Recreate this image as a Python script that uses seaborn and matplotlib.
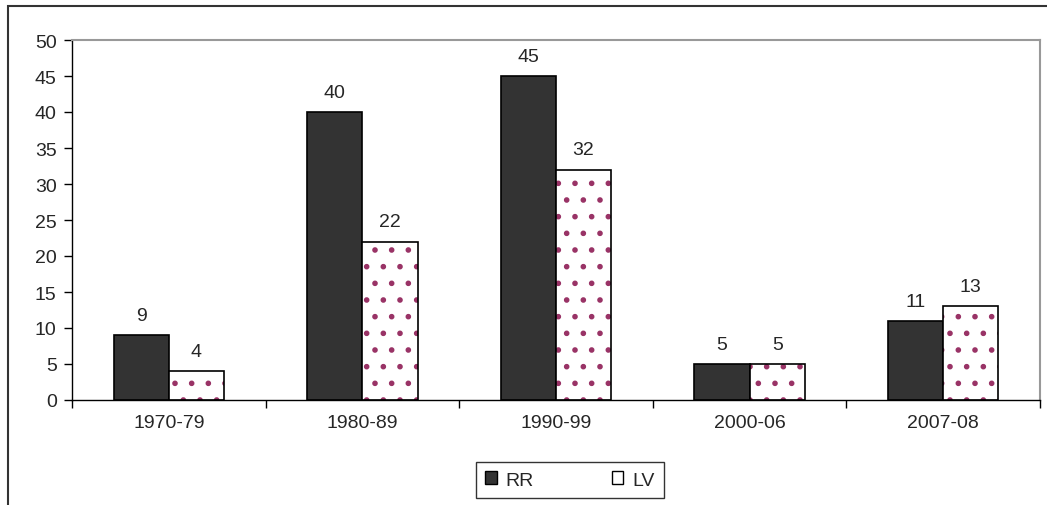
import pandas as pd
import matplotlib
matplotlib.use("Agg")
import matplotlib.pyplot as plt
import matplotlib.patches as mpatches
import seaborn as sns

periods = ["1970-79", "1980-89", "1990-99", "2000-06", "2007-08"]
rr = [9, 40, 45, 5, 11]
lv = [4, 22, 32, 5, 13]

df = pd.DataFrame({
    "period": periods * 2,
    "count": rr + lv,
    "series": ["RR"] * len(periods) + ["LV"] * len(periods),
})

sns.set_style("white")
plt.rcParams["font.family"] = ["Liberation Sans", "DejaVu Sans"]
plt.rcParams["hatch.linewidth"] = 1.6
fs = 14

fig = plt.figure(figsize=(10.47, 5.06), dpi=100)
ax = fig.add_axes([72 / 1047, 105 / 506, 968 / 1047, 360 / 506])

sns.barplot(data=df, x="period", y="count", hue="series",
            palette={"RR": "#333333", "LV": "white"},
            width=0.57, gap=0, saturation=1, edgecolor="black",
            linewidth=1.2, ax=ax, legend=False)

# dotted fill for LV: hatch takes the edge colour, so draw the outline on top
dot = "#993366"
for bar in ax.containers[1]:
    bar.set_hatch(".")
    bar.set_edgecolor(dot)
    bar.set_linewidth(0)
    ax.add_patch(mpatches.Rectangle((bar.get_x(), bar.get_y()), bar.get_width(),
                                    bar.get_height(), fill=False,
                                    edgecolor="black", linewidth=1.2, zorder=3))

for cont, vals in zip(ax.containers, [rr, lv]):
    ax.bar_label(cont, labels=[str(v) for v in vals], padding=8, fontsize=fs)

ax.set_ylim(0, 50)
ax.set_yticks(range(0, 51, 5))
ax.set_xlim(-0.5, len(periods) - 0.5)
ax.set_xticks([i + 0.5 for i in range(-1, len(periods))], minor=True)
ax.tick_params(axis="x", which="major", length=0, labelsize=fs, pad=10)
ax.tick_params(axis="x", which="minor", length=6, width=1, color="black",
               bottom=True, direction="out")
ax.tick_params(axis="y", length=6, width=1, color="black", labelsize=fs,
               left=True, direction="out", pad=5)
ax.set_xlabel("")
ax.set_ylabel("")
for s in ["left", "bottom"]:
    ax.spines[s].set_color("black")
    ax.spines[s].set_linewidth(1)
for s in ["top", "right"]:
    ax.spines[s].set_color("#999999")
    ax.spines[s].set_linewidth(1.5)

handles = [mpatches.Patch(facecolor="#333333", edgecolor="black", label="RR"),
           mpatches.Patch(facecolor="white", edgecolor="black", label="LV")]
leg = fig.legend(handles=handles, loc="center", bbox_to_anchor=(570 / 1047, 1 - 481 / 506),
                 ncol=2, frameon=True, fancybox=False, fontsize=fs,
                 handlelength=0.6, handleheight=0.6, columnspacing=4.0,
                 borderpad=0.5, handletextpad=0.45, borderaxespad=0)
leg.get_frame().set_edgecolor("black")
leg.get_frame().set_linewidth(1)

# outer chart border (only top and left visible in the crop)
fig.add_artist(mpatches.Rectangle((8 / 1047, -0.1), 1.1, 1 - 7 / 506 + 0.1,
                                  transform=fig.transFigure, fill=False,
                                  edgecolor="#333333", linewidth=1.5))

fig.savefig("out.png", dpi=100)
